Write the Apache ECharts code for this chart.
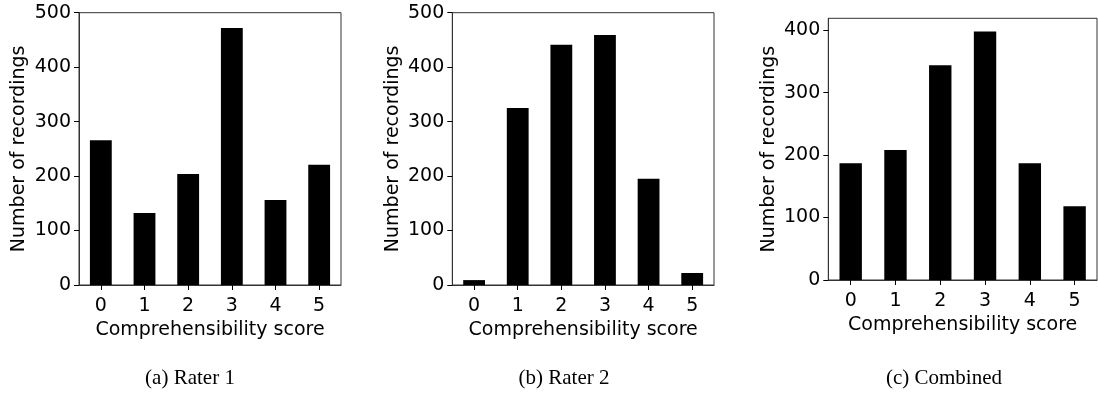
<!DOCTYPE html>
<html>
<head>
<meta charset="utf-8">
<script src="https://cdn.jsdelivr.net/npm/echarts@6/dist/echarts.min.js"></script>
<style>
html,body{margin:0;padding:0;background:#fff;}
#chart{width:1098px;height:394px;}
</style>
</head>
<body>
<div id="chart"></div>
<script>
const categories = ['0', '1', '2', '3', '4', '5'];
const rater1 = [266, 132, 204, 472, 156, 221];
const rater2 = [9, 325, 441, 459, 195, 22];
const combined = [187, 208, 344, 398, 187, 118];
const yMax = [500, 500, 419];
const captions = ['(a) Rater 1', '(b) Rater 2', '(c) Combined'];
const xTitle = 'Comprehensibility score';
const yTitle = 'Number of recordings';

const seriesData = [rater1, rater2, combined];
const grids = [
  {left: 79, top: 12.7, width: 262, height: 272.3},
  {left: 452.3, top: 12.7, width: 261.7, height: 272.3},
  {left: 828.3, top: 18.3, width: 268.7, height: 261.7}
];
const capPos = [190, 564, 944];
const FONT = 'DejaVu Sans';
const spineColor = '#333';

const option = {
  animation: false,
  backgroundColor: '#fff',
  grid: grids.map(g => Object.assign({show: true, borderColor: spineColor, borderWidth: 1, backgroundColor: 'transparent'}, g)),
  xAxis: grids.map((g, i) => ({
    type: 'category',
    gridIndex: i,
    data: categories,
    boundaryGap: true,
    name: xTitle,
    nameLocation: 'middle',
    nameGap: 34,
    nameTextStyle: {fontFamily: FONT, fontSize: 19, color: '#000'},
    axisLine: {show: true, lineStyle: {color: spineColor, width: 1}},
    axisTick: {show: true, alignWithLabel: true, length: 5, lineStyle: {color: '#000'}},
    axisLabel: {fontFamily: FONT, fontSize: 19, color: '#000', margin: 12},
    splitLine: {show: false}
  })),
  yAxis: grids.map((g, i) => ({
    type: 'value',
    gridIndex: i,
    min: 0,
    max: yMax[i],
    interval: 100,
    name: yTitle,
    nameLocation: 'middle',
    nameGap: 50,
    nameTextStyle: {fontFamily: FONT, fontSize: 19, color: '#000'},
    axisLine: {show: true, lineStyle: {color: spineColor, width: 1}},
    axisTick: {show: true, length: 5, lineStyle: {color: '#000'}},
    axisLabel: {fontFamily: FONT, fontSize: 19, color: '#000', margin: 8, showMaxLabel: i < 2},
    splitLine: {show: false}
  })),
  series: seriesData.map((d, i) => ({
    type: 'bar',
    xAxisIndex: i,
    yAxisIndex: i,
    data: d,
    barWidth: '50%',
    itemStyle: {color: '#000'}
  })),
  graphic: captions.map((c, i) => ({
    type: 'text',
    x: capPos[i],
    y: 378,
    style: {
      text: c,
      font: '21px "Liberation Serif"',
      fill: '#000',
      textAlign: 'center',
      textVerticalAlign: 'middle'
    }
  }))
};

const chart = echarts.init(document.getElementById('chart'), null, {renderer: 'canvas'});
chart.setOption(option);
</script>
</body>
</html>
